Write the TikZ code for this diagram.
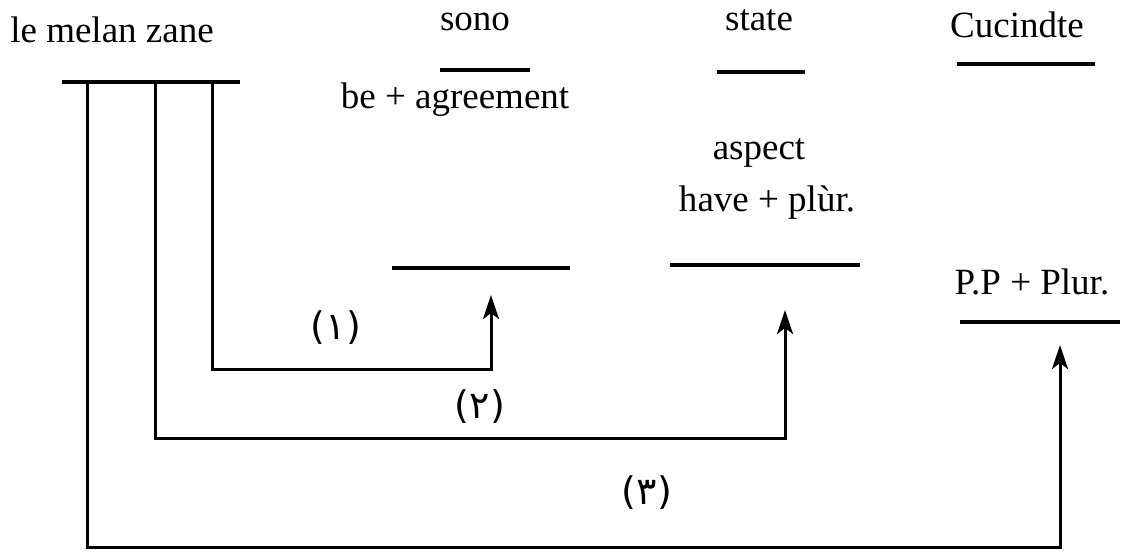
\documentclass[tikz,border=0pt]{standalone}
\usepackage{fontspec}
\setmainfont{Liberation Serif}
\newfontfamily\arabicfont[Script=Arabic]{DejaVu Sans}
\TeXXeTstate=1
\usepackage{tikz}
\usetikzlibrary{positioning}
\usetikzlibrary{arrows.meta}

\begin{document}
\begin{tikzpicture}[x=0.5pt, y=-0.5pt]
    \tikzset{
    word/.style=
    {
        inner sep = 0pt,
        font = \fontsize{18.5}{22}\selectfont
    },
    tag/.style=
    {
        inner sep = 0pt,
        font = \fontsize{19}{22}\selectfont\arabicfont
    },
    bar/.style=
    {
        line width = 1.6pt
    },
    link/.style=
    {
        line width = 1.5pt,
        -{Stealth[length=12pt, width=8pt, inset=3pt]}
    }
}

  \useasboundingbox (0,0) rectangle (1129,554);

  % top row
  \node[word] (subj) at (112,30) {le melan zane};
  \node[word] (sono) at (475,22) {sono};
  \node[word] (state) at (759,20) {state};
  \node[word] (cuc) at (1017,25) {Cucindte};

  \draw[bar] (62,82) -- (240,82);
  \draw[bar] (440,70) -- (530,70);
  \draw[bar] (717,72) -- (805,72);
  \draw[bar] (957,64) -- (1095,64);

  % second row
  \node[word] (agree) at (455,100) {be + agreement};
  \node[word] (aspect) at (759,153) {aspect};
  \node[word] (have) at (767,203) {have + plùr.};
  \node[word] (pp) at (1032,282) {P.P + Plur.};

  % empty slots
  \coordinate (s1a) at (392,268);
  \coordinate (s1b) at (570,268);
  \coordinate (s2a) at (670,265);
  \coordinate (s2b) at (860,265);
  \coordinate (s3a) at (960,322);
  \coordinate (s3b) at (1120,322);
  \draw[bar] (s1a) -- (s1b);
  \draw[bar] (s2a) -- (s2b);
  \draw[bar] (s3a) -- (s3b);

  % links from the subject
  \coordinate (f1) at (212,82);
  \coordinate (f2) at (155,82);
  \coordinate (f3) at (87,82);
  \coordinate (t1) at (491,295);
  \coordinate (t2) at (785,310);
  \coordinate (t3) at (1060,345);

  \draw[link] (f1) |- (491,369) -- (t1);
  \draw[link] (f2) |- (785,438) -- (t2);
  \draw[link] (f3) |- (1060,547) -- (t3);

  \node[tag] (one) at (336,328) {\beginR(١)\endR};
  \node[tag] (two) at (480,407) {\beginR(٢)\endR};
  \node[tag] (three) at (647,493) {\beginR(٣)\endR};

\end{tikzpicture}
\end{document}
